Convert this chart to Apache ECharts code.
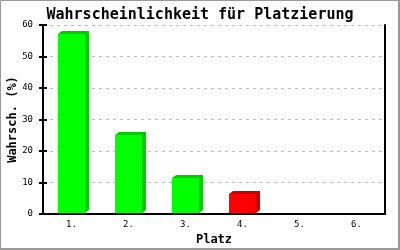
<!DOCTYPE html>
<html><head><meta charset="utf-8">
<script src="https://cdn.jsdelivr.net/npm/echarts@6/dist/echarts.min.js"></script>
<style>html,body{margin:0;padding:0;background:#fff}#c{width:400px;height:250px}</style>
</head><body><div id="c"></div>
<script>
const categories = ['1.', '2.', '3.', '4.', '5.', '6.'];
const values = [57, 25, 11.5, 6.3, 0, 0];
const frontColors = ['#00ff00', '#00ff00', '#00ff00', '#ff0000', '#00ff00', '#00ff00'];
const sideColors = ['#00cc00', '#00cc00', '#00cc00', '#cc0000', '#00cc00', '#00cc00'];
const yTicks = [0, 10, 20, 30, 40, 50, 60];

const chart = echarts.init(document.getElementById('c'), null, {renderer: 'canvas'});
const mono = '"DejaVu Sans Mono", "Liberation Mono", monospace';
const DX = 4, DY = 3, BW = 27;

chart.setOption({
  animation: false,
  backgroundColor: '#fff',
  title: {
    text: 'Wahrscheinlichkeit für Platzierung',
    left: 'center', top: 3,
    textStyle: {fontFamily: mono, fontSize: 15, fontWeight: 'bold', color: '#000'}
  },
  grid: {left: 43, right: 15, top: 25, bottom: 36, containLabel: false, outerBoundsMode: 'none'},
  xAxis: {
    type: 'category', data: categories,
    name: 'Platz', nameLocation: 'middle', nameGap: 19,
    nameTextStyle: {fontFamily: mono, fontSize: 12, fontWeight: 'bold', color: '#000'},
    axisLine: {lineStyle: {color: '#000', width: 2}},
    axisTick: {show: false},
    axisLabel: {fontFamily: mono, fontSize: 9, color: '#000', margin: 6}
  },
  yAxis: [{
    type: 'value', min: yTicks[0], max: yTicks[yTicks.length - 1], interval: 10,
    name: 'Wahrsch. (%)', nameLocation: 'middle', nameGap: 24, nameMoveOverlap: false,
    nameTextStyle: {fontFamily: mono, fontSize: 12, fontWeight: 'bold', color: '#000'},
    axisLine: {show: true, lineStyle: {color: '#000', width: 2}},
    axisTick: {show: true, length: 4, lineStyle: {color: '#000', width: 2}},
    axisLabel: {fontFamily: mono, fontSize: 9, color: '#000', margin: 10},
    splitLine: {show: true, lineStyle: {color: '#bbb', type: [3, 4], width: 1}}
  }, {
    type: 'value', min: 0, max: 60, interval: 10, position: 'right',
    axisLine: {show: true, lineStyle: {color: '#000', width: 2}},
    axisTick: {show: false}, axisLabel: {show: false}, splitLine: {show: false}
  }, {
    type: 'value', min: 0, max: 60, interval: 10, position: 'left', offset: 0,
    axisLine: {show: false},
    axisTick: {show: true, inside: true, length: 4, lineStyle: {color: '#000', width: 2}},
    axisLabel: {show: false}, splitLine: {show: false}
  }],
  graphic: [{
    type: 'rect', shape: {x: 0.5, y: 0.5, width: 398, height: 248},
    style: {fill: 'none', stroke: '#999', lineWidth: 1}, z: 100
  }, {
    type: 'rect', shape: {x: 398, y: 0, width: 2, height: 250},
    style: {fill: '#999'}, z: 100
  }, {
    type: 'rect', shape: {x: 0, y: 248, width: 400, height: 2},
    style: {fill: '#999'}, z: 100
  }],
  series: [{
    type: 'custom',
    data: values.map((v, i) => [i, v]),
    renderItem: function (params, api) {
      const v = api.value(1);
      if (!v) return null;
      const i = api.value(0);
      const top = api.coord([i, v]);
      const base = api.coord([i, 0]);
      const x0 = Math.round(top[0] - BW / 2), x1 = x0 + BW;
      const y0 = Math.round(top[1]), yb = Math.round(base[1]) - 1;
      return {
        type: 'group',
        children: [{
          type: 'polygon',
          shape: {points: [[x0, y0], [x0 + DX, y0 - DY], [x1 + DX, y0 - DY], [x1 + DX, yb - DY], [x1, yb], [x1, y0]]},
          style: {fill: sideColors[i]}
        }, {
          type: 'rect',
          shape: {x: x0, y: y0, width: BW, height: yb - y0},
          style: {fill: frontColors[i]}
        }]
      };
    }
  }]
});
</script></body></html>
